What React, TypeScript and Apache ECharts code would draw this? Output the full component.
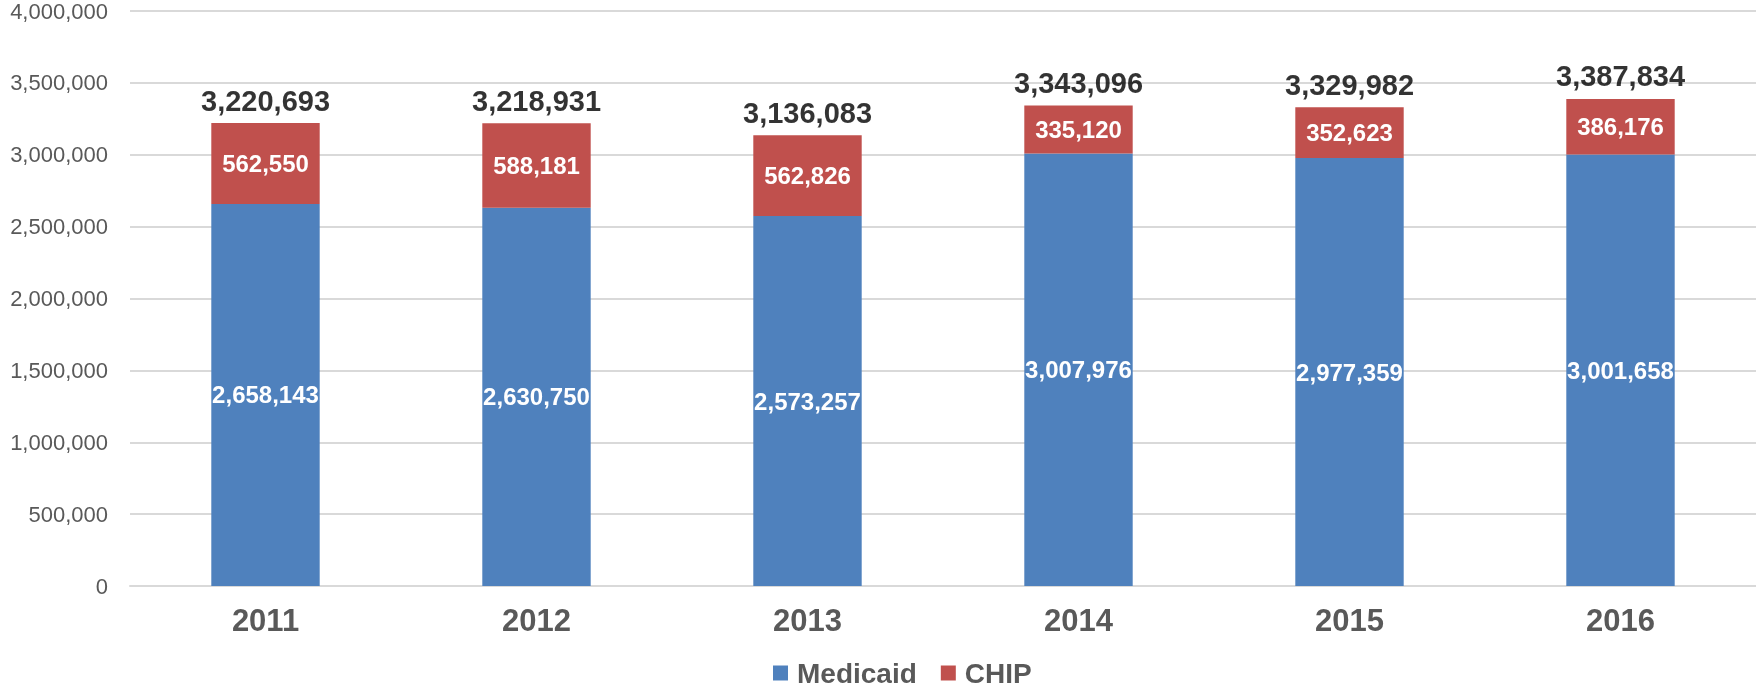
import React, { useEffect, useRef } from "react";
import * as echarts from "echarts";

const years = ["2011", "2012", "2013", "2014", "2015", "2016"];
const medicaid = [2658143, 2630750, 2573257, 3007976, 2977359, 3001658];
const chip = [562550, 588181, 562826, 335120, 352623, 386176];
const totals = medicaid.map((v, i) => v + chip[i]);

const FONT = 'Arial, "Liberation Sans", sans-serif';
const fmt = (v: number) => v.toLocaleString("en-US");

export default function App() {
  const ref = useRef<HTMLDivElement>(null);
  useEffect(() => {
    if (!ref.current) return;
    const chart = echarts.init(ref.current, undefined, { renderer: "svg" });
    chart.setOption({
      animation: false,
      textStyle: { fontFamily: FONT },
      grid: { left: 130, right: 0, top: 10, bottom: 101 },
      legend: {
        data: ["Medicaid", "CHIP"],
        left: 768,
        top: 654,
        icon: "rect",
        itemWidth: 15,
        itemHeight: 15,
        itemGap: 24,
        textStyle: {
          fontFamily: FONT,
          fontSize: 28,
          fontWeight: "bold",
          color: "#595959",
          padding: [0, 0, 0, 4],
        },
      },
      xAxis: {
        type: "category",
        data: years,
        axisLine: { show: true, lineStyle: { color: "#D9D9D9", width: 2 } },
        axisTick: { show: false },
        axisLabel: {
          fontFamily: FONT,
          fontSize: 31,
          fontWeight: "bold",
          color: "#595959",
          margin: 19,
        },
      },
      yAxis: {
        type: "value",
        min: 0,
        max: 4000000,
        interval: 500000,
        axisLine: { show: false },
        axisTick: { show: false },
        splitLine: { lineStyle: { color: "#D9D9D9", width: 2 } },
        axisLabel: {
          fontFamily: FONT,
          fontSize: 22,
          color: "#595959",
          margin: 22,
          formatter: (v: number) => fmt(v),
        },
      },
      series: [
        {
          name: "Medicaid",
          type: "bar",
          stack: "total",
          barWidth: "40%",
          data: medicaid,
          itemStyle: { color: "#4F81BD" },
          label: {
            show: true,
            position: "inside",
            fontFamily: FONT,
            fontSize: 24,
            fontWeight: "bold",
            color: "#FFFFFF",
            formatter: (p: any) => fmt(p.value),
          },
        },
        {
          name: "CHIP",
          type: "bar",
          stack: "total",
          barWidth: "40%",
          data: chip,
          itemStyle: { color: "#C0504D" },
          label: {
            show: true,
            position: "inside",
            fontFamily: FONT,
            fontSize: 24,
            fontWeight: "bold",
            color: "#FFFFFF",
            formatter: (p: any) => fmt(p.value),
          },
        },
        {
          name: "Total",
          type: "scatter",
          data: totals,
          symbolSize: 0,
          itemStyle: { color: "transparent" },
          label: {
            show: true,
            position: "top",
            distance: 8,
            fontFamily: FONT,
            fontSize: 29,
            fontWeight: "bold",
            color: "#000000",
            formatter: (p: any) => fmt(p.value),
          },
        },
      ],
    });
    return () => chart.dispose();
  }, []);
  return (
    <div
      ref={ref}
      style={{ position: "fixed", left: 0, top: 0, width: 1756, height: 687 }}
    />
  );
}
